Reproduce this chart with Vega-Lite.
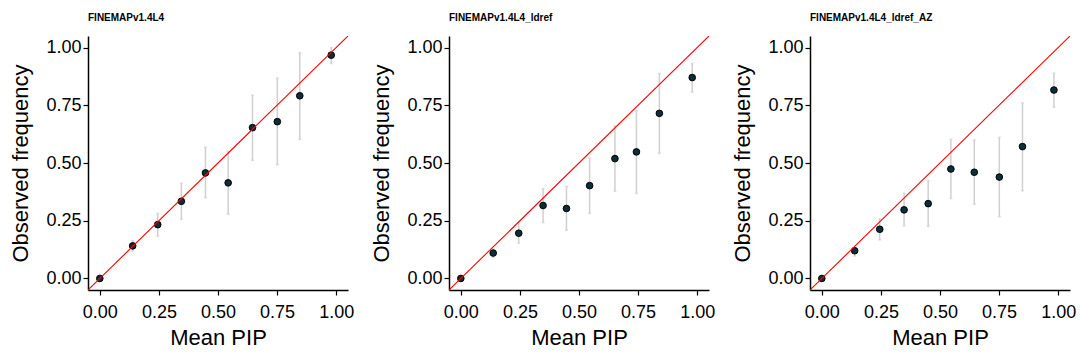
{
  "$schema": "https://vega.github.io/schema/vega-lite/v6.json",
  "background": "white",
  "padding": {"left": 9, "top": 13, "right": 5, "bottom": 5},
  "datasets": {
    "pts": [
      {"panel": "FINEMAPv1.4L4", "x": 0.0, "y": 0.0, "lo": 0.0, "hi": 0.0},
      {"panel": "FINEMAPv1.4L4", "x": 0.139, "y": 0.141, "lo": 0.118, "hi": 0.164},
      {"panel": "FINEMAPv1.4L4", "x": 0.245, "y": 0.233, "lo": 0.183, "hi": 0.282},
      {"panel": "FINEMAPv1.4L4", "x": 0.345, "y": 0.334, "lo": 0.256, "hi": 0.412},
      {"panel": "FINEMAPv1.4L4", "x": 0.447, "y": 0.457, "lo": 0.350, "hi": 0.568},
      {"panel": "FINEMAPv1.4L4", "x": 0.543, "y": 0.414, "lo": 0.278, "hi": 0.550},
      {"panel": "FINEMAPv1.4L4", "x": 0.646, "y": 0.653, "lo": 0.512, "hi": 0.793},
      {"panel": "FINEMAPv1.4L4", "x": 0.751, "y": 0.679, "lo": 0.493, "hi": 0.867},
      {"panel": "FINEMAPv1.4L4", "x": 0.846, "y": 0.791, "lo": 0.602, "hi": 0.978},
      {"panel": "FINEMAPv1.4L4", "x": 0.979, "y": 0.967, "lo": 0.931, "hi": 1.0},
      {"panel": "FINEMAPv1.4L4_ldref", "x": 0.0, "y": 0.0, "lo": 0.0, "hi": 0.0},
      {"panel": "FINEMAPv1.4L4_ldref", "x": 0.137, "y": 0.110, "lo": 0.092, "hi": 0.127},
      {"panel": "FINEMAPv1.4L4_ldref", "x": 0.245, "y": 0.196, "lo": 0.153, "hi": 0.242},
      {"panel": "FINEMAPv1.4L4_ldref", "x": 0.348, "y": 0.316, "lo": 0.242, "hi": 0.389},
      {"panel": "FINEMAPv1.4L4_ldref", "x": 0.447, "y": 0.303, "lo": 0.209, "hi": 0.399},
      {"panel": "FINEMAPv1.4L4_ldref", "x": 0.545, "y": 0.402, "lo": 0.282, "hi": 0.522},
      {"panel": "FINEMAPv1.4L4_ldref", "x": 0.652, "y": 0.519, "lo": 0.378, "hi": 0.661},
      {"panel": "FINEMAPv1.4L4_ldref", "x": 0.743, "y": 0.548, "lo": 0.368, "hi": 0.727},
      {"panel": "FINEMAPv1.4L4_ldref", "x": 0.840, "y": 0.715, "lo": 0.542, "hi": 0.888},
      {"panel": "FINEMAPv1.4L4_ldref", "x": 0.979, "y": 0.870, "lo": 0.807, "hi": 0.931},
      {"panel": "FINEMAPv1.4L4_ldref_AZ", "x": 0.0, "y": 0.0, "lo": 0.0, "hi": 0.0},
      {"panel": "FINEMAPv1.4L4_ldref_AZ", "x": 0.139, "y": 0.120, "lo": 0.097, "hi": 0.131},
      {"panel": "FINEMAPv1.4L4_ldref_AZ", "x": 0.245, "y": 0.213, "lo": 0.167, "hi": 0.258},
      {"panel": "FINEMAPv1.4L4_ldref_AZ", "x": 0.348, "y": 0.297, "lo": 0.228, "hi": 0.369},
      {"panel": "FINEMAPv1.4L4_ldref_AZ", "x": 0.450, "y": 0.324, "lo": 0.226, "hi": 0.424},
      {"panel": "FINEMAPv1.4L4_ldref_AZ", "x": 0.546, "y": 0.474, "lo": 0.346, "hi": 0.602},
      {"panel": "FINEMAPv1.4L4_ldref_AZ", "x": 0.645, "y": 0.460, "lo": 0.321, "hi": 0.599},
      {"panel": "FINEMAPv1.4L4_ldref_AZ", "x": 0.751, "y": 0.439, "lo": 0.268, "hi": 0.611},
      {"panel": "FINEMAPv1.4L4_ldref_AZ", "x": 0.849, "y": 0.571, "lo": 0.380, "hi": 0.760},
      {"panel": "FINEMAPv1.4L4_ldref_AZ", "x": 0.982, "y": 0.816, "lo": 0.742, "hi": 0.889}
    ],
    "diag": [{"a": -0.05, "b": 1.05}]
  },
  "config": {
    "font": "Liberation Sans",
    "view": {"stroke": null},
    "concat": {"spacing": 16},
    "title": {"fontSize": 10, "fontWeight": "bold", "anchor": "start", "frame": "group", "offset": 13, "color": "black"},
    "axis": {
      "grid": false,
      "domainColor": "black",
      "domainWidth": 1.5,
      "tickColor": "black",
      "tickWidth": 1.2,
      "tickSize": 5,
      "labelFontSize": 18,
      "labelColor": "black",
      "labelPadding": 2,
      "titleFontSize": 22,
      "titleFontWeight": "normal",
      "titleColor": "black"
    },
    "axisY": {"minExtent": 50, "maxExtent": 50, "titlePadding": 6},
    "axisX": {"labelPadding": 8, "titlePadding": 6}
  },
  "hconcat": [
    {
      "title": "FINEMAPv1.4L4",
      "width": 260, "height": 254,
      "layer": [
        {"data": {"name": "pts"}, "transform": [{"filter": "datum.panel === 'FINEMAPv1.4L4'"}],
         "mark": {"type": "errorbar", "color": "#d0d0d0", "thickness": 1.5, "ticks": {"size": 3, "color": "#d0d0d0"}},
         "encoding": {"x": {"field": "x", "type": "quantitative", "scale": {"domain": [-0.05, 1.05], "nice": false, "zero": false}, "title": "Mean PIP", "axis": {"values": [0, 0.25, 0.5, 0.75, 1], "format": ".2f"}},
                      "y": {"field": "lo", "type": "quantitative", "scale": {"domain": [-0.05, 1.05], "nice": false, "zero": false}, "title": "Observed frequency", "axis": {"values": [0, 0.25, 0.5, 0.75, 1], "format": ".2f"}},
                      "y2": {"field": "hi"}}},
        {"data": {"name": "pts"}, "transform": [{"filter": "datum.panel === 'FINEMAPv1.4L4'"}],
         "mark": {"type": "point", "filled": true, "fill": "#0e2d3a", "stroke": "black", "strokeWidth": 1, "size": 44, "opacity": 1},
         "encoding": {"x": {"field": "x", "type": "quantitative", "title": "Mean PIP"}, "y": {"field": "y", "type": "quantitative", "title": "Observed frequency"}}},
        {"data": {"name": "diag"}, "mark": {"type": "rule", "color": "#ff0000", "strokeWidth": 1.1, "clip": true},
         "encoding": {"x": {"field": "a", "type": "quantitative", "title": "Mean PIP"}, "y": {"field": "a", "type": "quantitative", "title": "Observed frequency"},
                      "x2": {"field": "b"}, "y2": {"field": "b"}}}
      ]
    },
    {
      "title": "FINEMAPv1.4L4_ldref",
      "width": 260, "height": 254,
      "layer": [
        {"data": {"name": "pts"}, "transform": [{"filter": "datum.panel === 'FINEMAPv1.4L4_ldref'"}],
         "mark": {"type": "errorbar", "color": "#d0d0d0", "thickness": 1.5, "ticks": {"size": 3, "color": "#d0d0d0"}},
         "encoding": {"x": {"field": "x", "type": "quantitative", "scale": {"domain": [-0.05, 1.05], "nice": false, "zero": false}, "title": "Mean PIP", "axis": {"values": [0, 0.25, 0.5, 0.75, 1], "format": ".2f"}},
                      "y": {"field": "lo", "type": "quantitative", "scale": {"domain": [-0.05, 1.05], "nice": false, "zero": false}, "title": "Observed frequency", "axis": {"values": [0, 0.25, 0.5, 0.75, 1], "format": ".2f"}},
                      "y2": {"field": "hi"}}},
        {"data": {"name": "pts"}, "transform": [{"filter": "datum.panel === 'FINEMAPv1.4L4_ldref'"}],
         "mark": {"type": "point", "filled": true, "fill": "#0e2d3a", "stroke": "black", "strokeWidth": 1, "size": 44, "opacity": 1},
         "encoding": {"x": {"field": "x", "type": "quantitative", "title": "Mean PIP"}, "y": {"field": "y", "type": "quantitative", "title": "Observed frequency"}}},
        {"data": {"name": "diag"}, "mark": {"type": "rule", "color": "#ff0000", "strokeWidth": 1.1, "clip": true},
         "encoding": {"x": {"field": "a", "type": "quantitative", "title": "Mean PIP"}, "y": {"field": "a", "type": "quantitative", "title": "Observed frequency"},
                      "x2": {"field": "b"}, "y2": {"field": "b"}}}
      ]
    },
    {
      "title": "FINEMAPv1.4L4_ldref_AZ",
      "width": 260, "height": 254,
      "layer": [
        {"data": {"name": "pts"}, "transform": [{"filter": "datum.panel === 'FINEMAPv1.4L4_ldref_AZ'"}],
         "mark": {"type": "errorbar", "color": "#d0d0d0", "thickness": 1.5, "ticks": {"size": 3, "color": "#d0d0d0"}},
         "encoding": {"x": {"field": "x", "type": "quantitative", "scale": {"domain": [-0.05, 1.05], "nice": false, "zero": false}, "title": "Mean PIP", "axis": {"values": [0, 0.25, 0.5, 0.75, 1], "format": ".2f"}},
                      "y": {"field": "lo", "type": "quantitative", "scale": {"domain": [-0.05, 1.05], "nice": false, "zero": false}, "title": "Observed frequency", "axis": {"values": [0, 0.25, 0.5, 0.75, 1], "format": ".2f"}},
                      "y2": {"field": "hi"}}},
        {"data": {"name": "pts"}, "transform": [{"filter": "datum.panel === 'FINEMAPv1.4L4_ldref_AZ'"}],
         "mark": {"type": "point", "filled": true, "fill": "#0e2d3a", "stroke": "black", "strokeWidth": 1, "size": 44, "opacity": 1},
         "encoding": {"x": {"field": "x", "type": "quantitative", "title": "Mean PIP"}, "y": {"field": "y", "type": "quantitative", "title": "Observed frequency"}}},
        {"data": {"name": "diag"}, "mark": {"type": "rule", "color": "#ff0000", "strokeWidth": 1.1, "clip": true},
         "encoding": {"x": {"field": "a", "type": "quantitative", "title": "Mean PIP"}, "y": {"field": "a", "type": "quantitative", "title": "Observed frequency"},
                      "x2": {"field": "b"}, "y2": {"field": "b"}}}
      ]
    }
  ]
}
